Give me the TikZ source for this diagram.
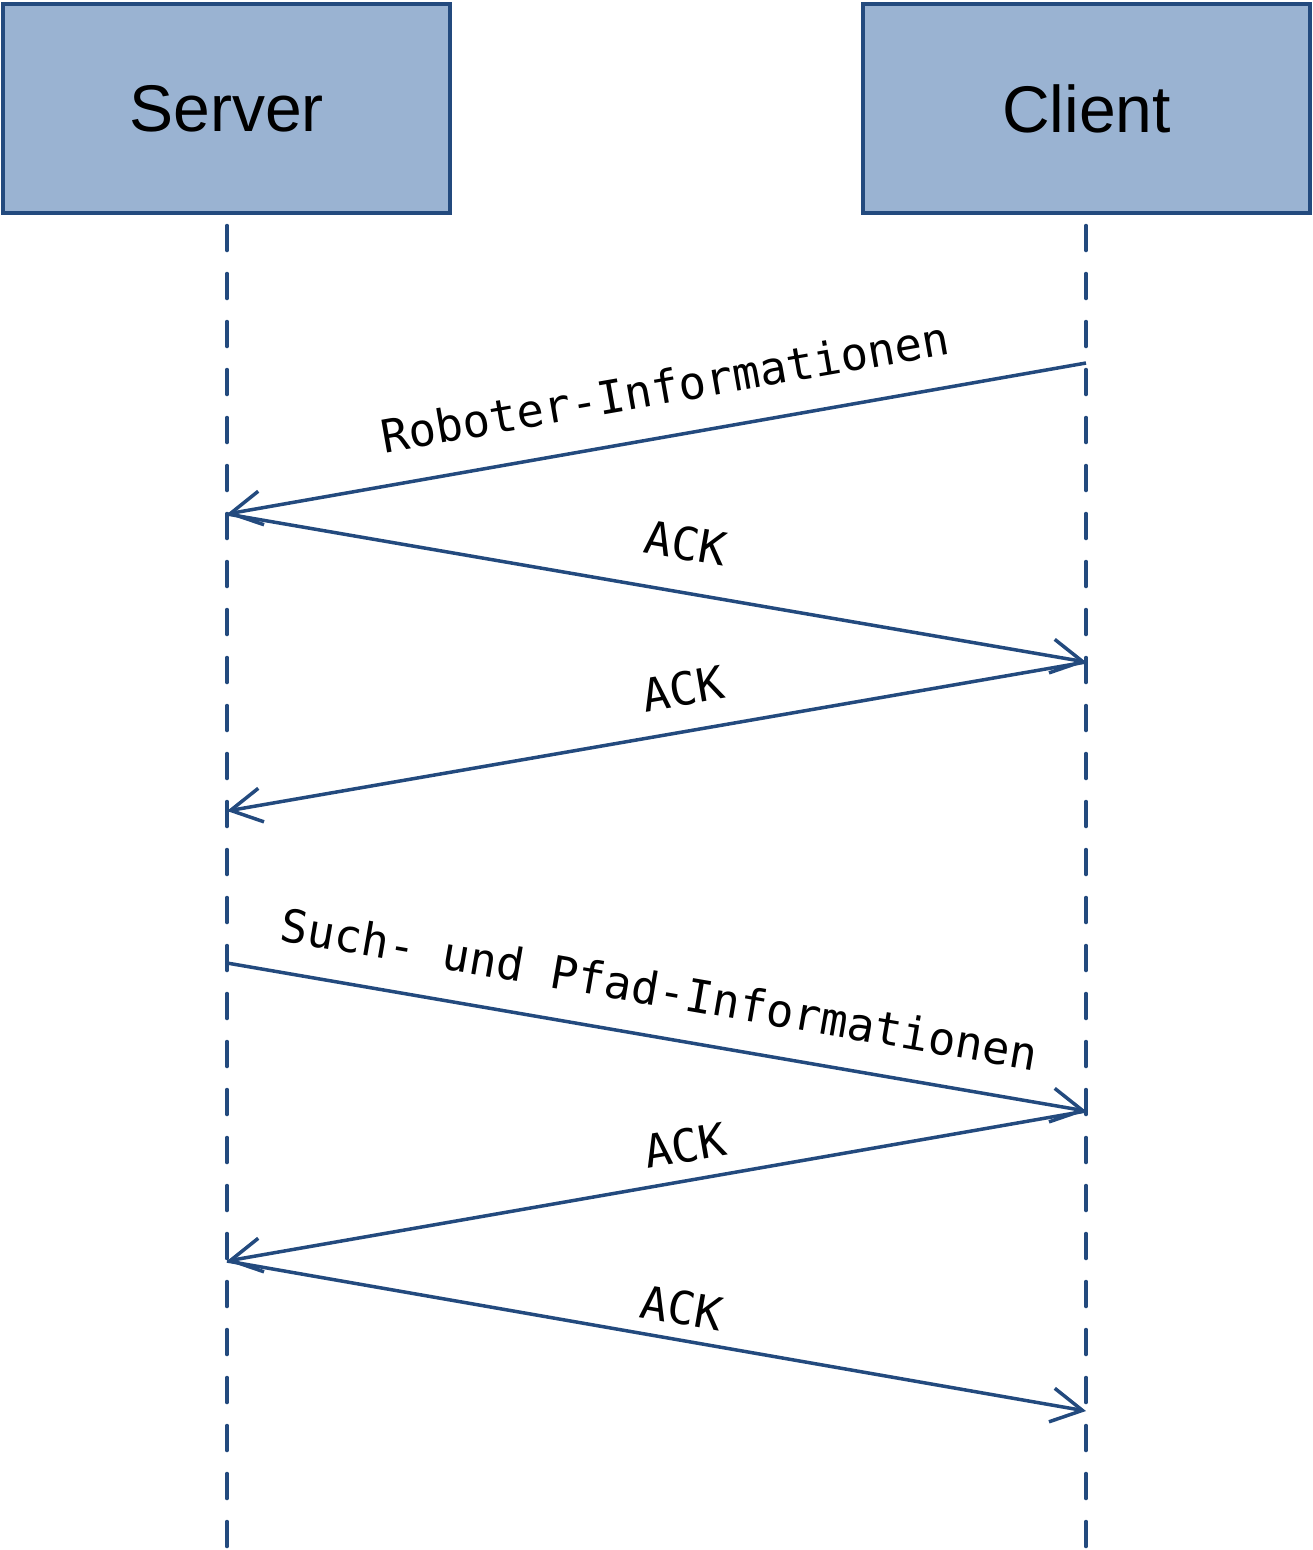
\documentclass[tikz,border=0pt]{standalone}
\usepackage{fontspec}
\setmainfont{Liberation Sans}
\newfontfamily\monofont{DejaVu Sans Mono}
\usetikzlibrary{arrows.meta}
\definecolor{lineblue}{HTML}{234A7E}
\definecolor{boxfill}{HTML}{9AB3D2}
\tikzset{
  actor/.style={draw=lineblue, line width=3.5pt, fill=boxfill, minimum width=447pt, minimum height=209pt, inner sep=0pt, font=\fontsize{66}{70}\selectfont},
  lifeline/.style={draw=lineblue, line width=3.5pt, dash pattern=on 25pt off 23pt, line cap=round},
  msg/.style={draw=lineblue, line width=3.5pt, -{Straight Barb[length=31pt,width=34pt,line width=3.5pt]}},
  msglabel/.style={sloped, inner sep=0pt, anchor=south, font=\monofont\fontsize{45.5}{48}\selectfont, text=black}
}
\begin{document}
\begin{tikzpicture}[x=1pt,y=-1pt]
\useasboundingbox (0,0) rectangle (1313,1550);
\node[actor] (srv) at (226.5,108.5) {Server};
\node[actor] (cli) at (1086.5,108.5) {Client};
\coordinate (sTop) at (227,225.5);
\coordinate (sBot) at (227,1552);
\coordinate (cTop) at (1086,225.5);
\coordinate (cBot) at (1086,1552);
\draw[lifeline] (sTop) -- (sBot);
\draw[lifeline] (cTop) -- (cBot);
\coordinate (c1) at (1086,363);
\coordinate (s1) at (227,514);
\coordinate (c2) at (1086,662);
\coordinate (s2) at (227,811);
\coordinate (s3) at (227,963);
\coordinate (c3) at (1086,1111);
\coordinate (s4) at (227,1261);
\coordinate (c4) at (1086,1411);
\draw[msg] (c1) -- node[msglabel, pos=0.48, yshift=30pt] (l1) {Roboter-Informationen} (s1);
\draw[msg] (s1) -- node[msglabel, pos=0.524, yshift=30pt] (l2) {ACK} (c2);
\draw[msg] (c2) -- node[msglabel, pos=0.46, yshift=23.5pt] (l3) {ACK} (s2);
\draw[msg] (s3) -- node[msglabel, pos=0.494, yshift=28.5pt] (l4) {Such- und Pfad-Informationen} (c3);
\draw[msg] (c3) -- node[msglabel, pos=0.46, yshift=16pt] (l5) {ACK} (s4);
\draw[msg] (s4) -- node[msglabel, pos=0.523, yshift=13pt] (l6) {ACK} (c4);
\end{tikzpicture}
\end{document}
